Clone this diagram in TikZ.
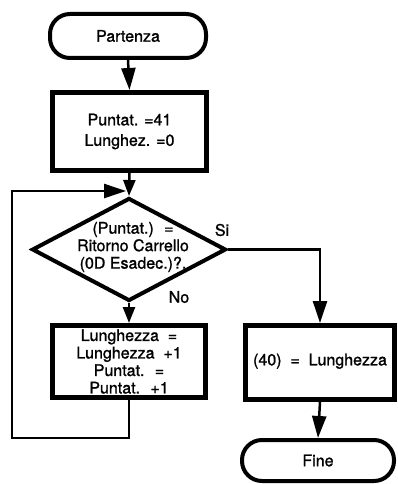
\documentclass[tikz,border=0pt]{standalone}
\usepackage{fontspec}
\setmainfont{TeX Gyre Heros}[FakeBold=1.2]
\usetikzlibrary{arrows.meta,shapes.geometric}
\begin{document}
\begin{tikzpicture}[x=1pt,y=-1pt,
  every node/.style={font=\fontsize{16}{17.5}\selectfont, inner sep=0pt},
  term/.style={draw, line width=4pt, rounded corners=20pt, align=center},
  box/.style={draw, line width=5pt, align=center},
  conn/.style={line width=2.5pt},
  bigtip/.style={-{Triangle[length=22pt,width=14pt]}},
  smalltip/.style={-{Triangle[length=16pt,width=12pt]}}]
\useasboundingbox (0,0) rectangle (397,484);
\node[term, minimum width=156pt, minimum height=44pt] (start) at (128,36) {Partenza};
\node[box, minimum width=154pt, minimum height=78pt] (box1) at (129.5,131.5) {\raisebox{3pt}{Puntat. =41}\\Lunghez. =0};
\node[draw, shape=diamond, line width=4pt, minimum width=194pt, minimum height=103pt] (dia) at (129,249.5) {};
\node[align=center] (diatext) at (133,247) {(Puntat.) \ =\\Ritorno Carrello\\(0D Esadec.)?.};
\node (si) at (222,230) {Si};
\node (no) at (179,297) {No};
\node[box, minimum width=153pt, minimum height=72pt] (box3) at (129,361.5) {Lunghezza \ =\\Lunghezza \ +1\\Puntat. \ =\\Puntat. \ +1};
\node[box, minimum width=149pt, minimum height=74pt] (box2) at (320,362.5) {\raisebox{6pt}{(40) \ = \ Lunghezza}};
\node[term, minimum width=152pt, minimum height=41pt] (fine) at (318,460.5) {Fine};
\coordinate (lb) at (12,438);
\coordinate (lt) at (12,191);
\coordinate (j) at (126,191);
\draw[conn, bigtip] (start.south) -- (box1.north);
\draw[conn, smalltip] (box1.south) -- (dia.north);
\draw[conn, smalltip] (dia.south) -- (box3.north);
\draw[conn, bigtip] (dia.east) -| (box2.north);
\draw[conn, bigtip] (box2.south) -- (fine.north);
\draw[conn, bigtip] (box3.south) |- (lb) -- (lt) -- (j);
\end{tikzpicture}
\end{document}
